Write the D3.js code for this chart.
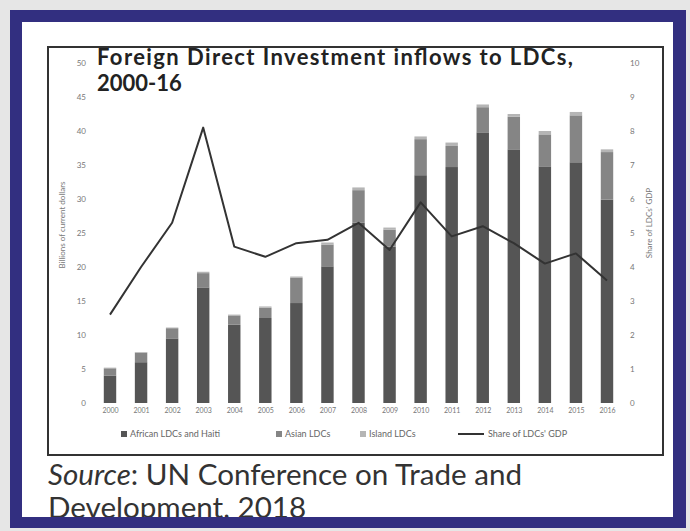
<!DOCTYPE html>
<html>
<head>
<meta charset="utf-8">
<script src="https://cdn.jsdelivr.net/npm/d3@7"></script>
<style>
  html, body { margin: 0; padding: 0; background: #e6e6e6; }
  svg { display: block; }
</style>
</head>
<body>
<svg id="chart" width="690" height="531"></svg>
<script>
// FDI inflows to LDCs, billions of current dollars, stacked by group
const years = ["2000","2001","2002","2003","2004","2005","2006","2007","2008",
               "2009","2010","2011","2012","2013","2014","2015","2016"];
const african = [4.0, 6.0, 9.5, 17.0, 11.5, 12.5, 14.7, 20.1, 26.5, 23.0, 33.5, 34.7, 39.8, 37.3, 34.8, 35.4, 29.9];
const asian   = [1.1, 1.4, 1.5, 2.1, 1.3, 1.5, 3.7, 3.2, 4.8, 2.5, 5.3, 3.1, 3.7, 4.8, 4.7, 6.9, 7.0];
const island  = [0.1, 0.1, 0.1, 0.2, 0.2, 0.2, 0.2, 0.3, 0.4, 0.3, 0.4, 0.5, 0.4, 0.4, 0.5, 0.5, 0.4];
// FDI inflows as a share of LDCs' GDP (%)
const share   = [2.6, 4.0, 5.3, 8.1, 4.6, 4.3, 4.7, 4.8, 5.3, 4.5, 5.9, 4.9, 5.2, 4.7, 4.1, 4.4, 3.6];

const leftTicks  = [0, 5, 10, 15, 20, 25, 30, 35, 40, 45, 50];
const rightTicks = [0, 1, 2, 3, 4, 5, 6, 7, 8, 9, 10];
const seriesNames = ["African LDCs and Haiti", "Asian LDCs", "Island LDCs"];
const lineName = "Share of LDCs' GDP";

const colors = ["#555555", "#858585", "#b5b5b5"];

const svg = d3.select("#chart");

// page frame
svg.append("rect").attr("x", 10).attr("y", 10).attr("width", 676).attr("height", 518).attr("fill", "#322f80");
svg.append("rect").attr("x", 22).attr("y", 22).attr("width", 651).attr("height", 495).attr("fill", "#ffffff");

// chart box
svg.append("rect").attr("x", 48).attr("y", 47).attr("width", 615).attr("height", 408)
  .attr("fill", "#ffffff").attr("stroke", "#333").attr("stroke-width", 2);

const x = d3.scalePoint().domain(years).range([110, 607]);
const bw = x.step() * 0.4;
const yL = d3.scaleLinear().domain([0, 50]).range([403, 63]);
const yR = d3.scaleLinear().domain([0, 10]).range([403, 63]);

// stacked bars
const rows = years.map((yr, i) => ({ year: yr, a: african[i], b: asian[i], c: island[i] }));
const stack = d3.stack().keys(["a", "b", "c"])(rows);
svg.append("g").selectAll("g").data(stack).join("g")
  .attr("fill", (d, i) => colors[i])
  .selectAll("rect").data(d => d).join("rect")
  .attr("x", d => x(d.data.year) - bw / 2)
  .attr("width", bw)
  .attr("y", d => yL(d[1]))
  .attr("height", d => yL(d[0]) - yL(d[1]));

// share line
const line = d3.line().x((d, i) => x(years[i])).y(d => yR(d));
svg.append("path").datum(share).attr("d", line)
  .attr("fill", "none").attr("stroke", "#333").attr("stroke-width", 2).attr("stroke-linejoin", "round");

// axes
const axL = svg.append("g").attr("transform", "translate(88,0)")
  .call(d3.axisLeft(yL).tickValues(leftTicks).tickSize(0).tickPadding(2));
const axR = svg.append("g").attr("transform", "translate(628,0)")
  .call(d3.axisRight(yR).tickValues(rightTicks).tickSize(0).tickPadding(2));
const axB = svg.append("g").attr("transform", "translate(0,405)")
  .call(d3.axisBottom(x).tickSize(0).tickPadding(3));
[axL, axR, axB].forEach(g => {
  g.select(".domain").remove();
  g.selectAll("text").attr("fill", "#777").attr("font-family", "Lato, sans-serif").attr("font-size", 8);
});
axB.selectAll("text").attr("font-size", 7);

// axis titles
svg.append("text").attr("transform", "translate(65,225) rotate(-90)")
  .attr("text-anchor", "middle").attr("font-family", "Lato, sans-serif").attr("font-size", 8).attr("fill", "#777")
  .text("Billions of current dollars");
svg.append("text").attr("transform", "translate(652,223) rotate(-90)")
  .attr("text-anchor", "middle").attr("font-family", "Lato, sans-serif").attr("font-size", 8).attr("fill", "#777")
  .text(lineName);

// legend
const legY = 437;
const legX = [121, 276, 360];
seriesNames.forEach((name, i) => {
  svg.append("rect").attr("x", legX[i]).attr("y", legY - 6).attr("width", 6).attr("height", 6).attr("fill", colors[i]);
  svg.append("text").attr("x", legX[i] + 9).attr("y", legY).attr("font-family", "Lato, sans-serif")
    .attr("font-size", 9).attr("fill", "#666").text(name);
});
svg.append("line").attr("x1", 458).attr("x2", 484).attr("y1", legY - 3).attr("y2", legY - 3)
  .attr("stroke", "#333").attr("stroke-width", 2);
svg.append("text").attr("x", 488).attr("y", legY).attr("font-family", "Lato, sans-serif")
  .attr("font-size", 9).attr("fill", "#666").text(lineName);

// scale a text element's font size so that it spans the given width
function fit(sel, width) {
  const fs = parseFloat(sel.attr("font-size"));
  const w = sel.node().getComputedTextLength();
  sel.attr("font-size", (fs * width / w).toFixed(2));
}

// title
svg.append("text").attr("x", 97).attr("y", 65).attr("font-family", "Lato, sans-serif")
  .attr("font-weight", "bold").attr("font-size", 22).attr("fill", "#222")
  .attr("textLength", 476).attr("lengthAdjust", "spacing")
  .text("Foreign Direct Investment inflows to LDCs,");
svg.append("text").attr("x", 97).attr("y", 91).attr("font-family", "Lato, sans-serif")
  .attr("font-weight", "bold").attr("font-size", 22).attr("fill", "#222")
  .text("2000-16");

// source note
const s1 = svg.append("text").attr("x", 48).attr("y", 485).attr("font-family", "Lato, sans-serif")
  .attr("font-size", 24).attr("fill", "#333");
s1.append("tspan").attr("font-style", "italic").text("Source");
s1.append("tspan").text(": UN Conference on Trade and");
fit(s1, 474);
svg.append("text").attr("x", 48).attr("y", 518).attr("font-family", "Lato, sans-serif")
  .attr("font-size", s1.attr("font-size")).attr("fill", "#333")
  .text("Development, 2018");

// bottom band drawn last so the second source line is clipped by it
svg.append("rect").attr("x", 10).attr("y", 517).attr("width", 676).attr("height", 11).attr("fill", "#322f80");
</script>
</body>
</html>
